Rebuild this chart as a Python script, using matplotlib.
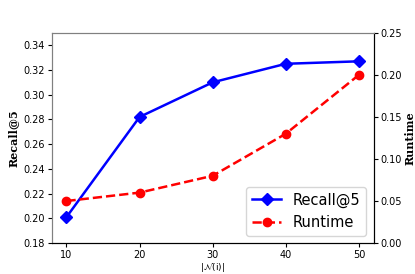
import numpy as np
import matplotlib.pyplot as plt

neighbors = [10, 20, 30, 40, 50]
recall = [0.201, 0.282, 0.310, 0.325, 0.327]
runtime = [0.05, 0.06, 0.08, 0.13, 0.20]

fig, ax1 = plt.subplots(figsize=(4.15, 2.74), dpi=100)
fig.subplots_adjust(left=0.125, right=0.9, top=0.88, bottom=0.113)

l1, = ax1.plot(neighbors, recall, color='blue', marker='D', markersize=6,
               linewidth=1.8, label='Recall@5')
ax1.set_ylim(0.18, 0.35)
ax1.set_yticks(np.arange(0.18, 0.345, 0.02))
ax1.set_xticks(neighbors)
ax1.tick_params(labelsize=7, length=3, pad=2)
ax1.set_ylabel('Recall@5', family='serif', fontweight='bold', fontsize=8, labelpad=3)
ax1.set_xlabel(r'$|\mathcal{N}(\mathrm{i})|$', fontsize=6.5, labelpad=1)
for s in ['left', 'top']:
    ax1.spines[s].set_color('gray')

ax2 = ax1.twinx()
l2, = ax2.plot(neighbors, runtime, color='red', marker='o', markersize=6,
               linewidth=1.8, linestyle='--', label='Runtime')
ax2.set_ylim(0, 0.25)
ax2.tick_params(labelsize=7, length=3, pad=2)
ax2.set_ylabel('Runtime', family='serif', fontweight='bold', fontsize=8, labelpad=2)
ax2.spines['left'].set_color('gray')
ax2.spines['top'].set_color('gray')

ax2.legend([l1, l2], ['Recall@5', 'Runtime'], loc='lower right', fontsize=10.5)

fig.savefig('out.png')
